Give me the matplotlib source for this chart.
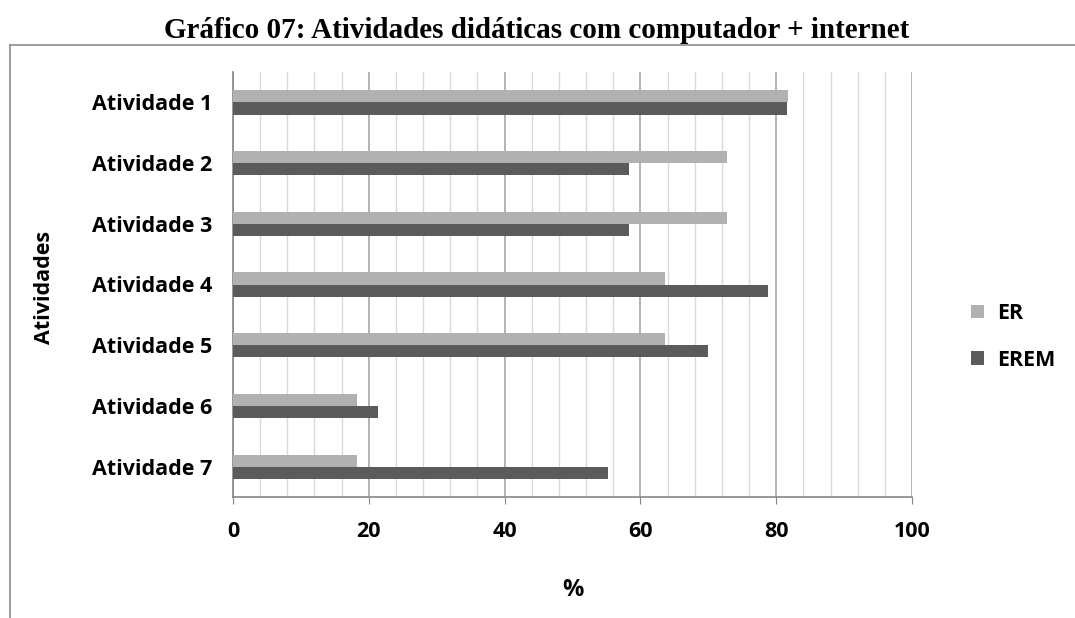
import numpy as np
import matplotlib
matplotlib.use('Agg')
import matplotlib.pyplot as plt
from matplotlib.lines import Line2D

# dados
atividades = ['Atividade 1', 'Atividade 2', 'Atividade 3', 'Atividade 4',
              'Atividade 5', 'Atividade 6', 'Atividade 7']
er = [81.8, 72.7, 72.7, 63.6, 63.6, 18.2, 18.2]
erem = [81.6, 58.3, 58.3, 78.8, 70.0, 21.4, 55.3]

fig = plt.figure(figsize=(10.75, 6.18), dpi=100)
ax = fig.add_axes([233/1075, 1 - 497/618, (912-233)/1075, (497-72)/618])

y = np.arange(len(atividades))
h = 0.2
ax.barh(y - h/2, er, height=h, color='#b1b1b1', label='ER', zorder=3)
ax.barh(y + h/2, erem, height=h, color='#5b5b5b', label='EREM', zorder=3)

ax.set_ylim(len(atividades) - 0.5, -0.5)
ax.set_xlim(0, 100)
ax.set_yticks(y)
ax.set_yticklabels(atividades, fontsize=15.5, fontweight='bold', family='Open Sans')
ax.tick_params(axis='y', length=0, pad=15)
ax.set_xticks(np.arange(0, 101, 20))
ax.set_xticks(np.arange(0, 101, 4), minor=True)
ax.tick_params(axis='x', which='major', length=5, color='#868686', pad=12, labelsize=15.5)
ax.tick_params(axis='x', which='minor', length=0)
for lbl in ax.get_xticklabels():
    lbl.set_fontweight('bold')
    lbl.set_family('Open Sans')

ax.grid(axis='x', which='minor', color='#d9d9d9', linewidth=1, zorder=0)
ax.grid(axis='x', which='major', color='#a6a6a6', linewidth=1.2, zorder=0)
ax.grid(axis='y', visible=False)

for s in ['top', 'right']:
    ax.spines[s].set_visible(False)
for s in ['left', 'bottom']:
    ax.spines[s].set_color('#868686')
    ax.spines[s].set_linewidth(1.2)

ax.set_xlabel('%', fontsize=17, fontweight='bold', family='Open Sans', labelpad=26)
fig.text(45/1075, 1 - 287/618, 'Atividades', rotation=90, ha='center', va='center',
         fontsize=15.5, fontweight='bold', family='Open Sans')

ax.legend(loc='center left', bbox_to_anchor=(952/1075, 1 - 337/618),
          bbox_transform=fig.transFigure, frameon=False, handlelength=0.6,
          handleheight=0.6, labelspacing=1.2, handletextpad=0.6,
          prop={'family': 'Open Sans', 'weight': 'bold', 'size': 15.5})

fig.text(537/1075, 1 - 30/618, 'Gráfico 07: Atividades didáticas com computador + internet',
         ha='center', va='center', fontsize=21, fontweight='bold', family='Liberation Serif')

# moldura
fig.add_artist(Line2D([10/1075, 1], [1 - 45/618, 1 - 45/618], color='#8c8c8c', linewidth=1.2))
fig.add_artist(Line2D([10/1075, 10/1075], [0, 1 - 45/618], color='#8c8c8c', linewidth=1.2))

fig.savefig('out.png', dpi=100)
